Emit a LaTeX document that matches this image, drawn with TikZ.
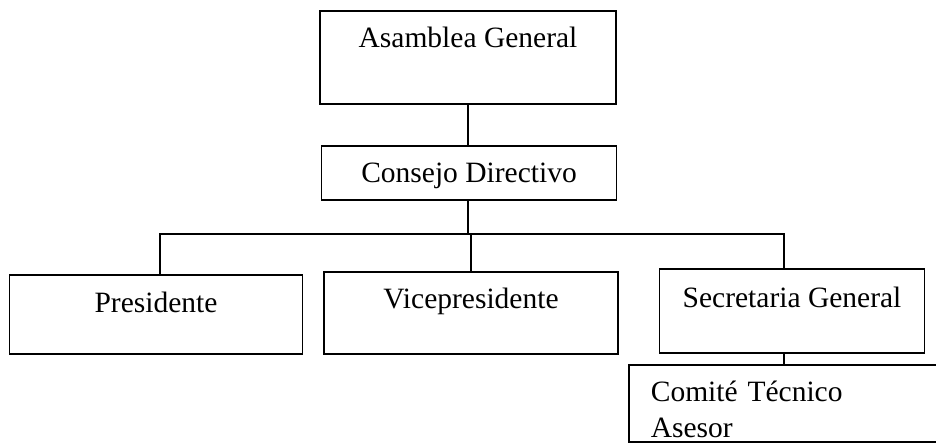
\documentclass[tikz,border=0pt]{standalone}
\usepackage{fontspec}
\setmainfont{Liberation Serif}
\tikzset{
    blok/.style={draw, rectangle, line width=1.7pt, inner sep=0pt, font=\fontsize{29.5}{36}\selectfont},
    liniya/.style={line width=1.7pt}
}
\begin{document}
\begin{tikzpicture}[x=1pt,y=-1pt]
                \useasboundingbox ( 0, 0 ) rectangle ( 936, 443 );
                \clip ( 0, 0 ) rectangle ( 936, 443 );
% верх
                \node [blok, anchor=north, minimum width=296pt, text height=37pt, text depth=56pt] (asamblea) at ( 468, 10 ) {Asamblea General};
                \node [blok, anchor=north, minimum width=295pt, text height=37pt, text depth=17pt] (consejo) at ( 469, 145 ) {Consejo Directivo};
% средний ряд
                \node [blok, anchor=north, minimum width=293pt, text height=38pt, text depth=41pt] (presidente) at ( 156, 274 ) {Presidente};
                \node [blok, anchor=north, minimum width=294pt, text height=37pt, text depth=45pt] (vice) at ( 471, 271 ) {Vicepresidente};
                \node [blok, anchor=north, minimum width=265pt, text height=39pt, text depth=45pt] (secretaria) at ( 792, 268 ) {Secretaria General};
% комитет
                \node [blok, anchor=north west, align=left, text width=330pt, inner xsep=22pt, text height=37pt, text depth=40pt] (comite) at ( 628, 364 ) {Comité Técnico\\Asesor};
% линии
                \coordinate (levo) at ( 160, 234 );
                \coordinate (pravo) at ( 784, 234 );
                \draw [liniya] (asamblea.south) -- (asamblea.south |- consejo.north);
                \draw [liniya] (asamblea.south |- consejo.south) -- (asamblea.south |- levo);
                \draw [liniya] (levo |- presidente.north) -- (levo) -- (pravo) -- (pravo |- secretaria.north);
                \draw [liniya] (vice.north) -- (vice.north |- levo);
                \draw [liniya] (pravo |- secretaria.south) -- (pravo |- comite.north);
            \end{tikzpicture}
\end{document}
